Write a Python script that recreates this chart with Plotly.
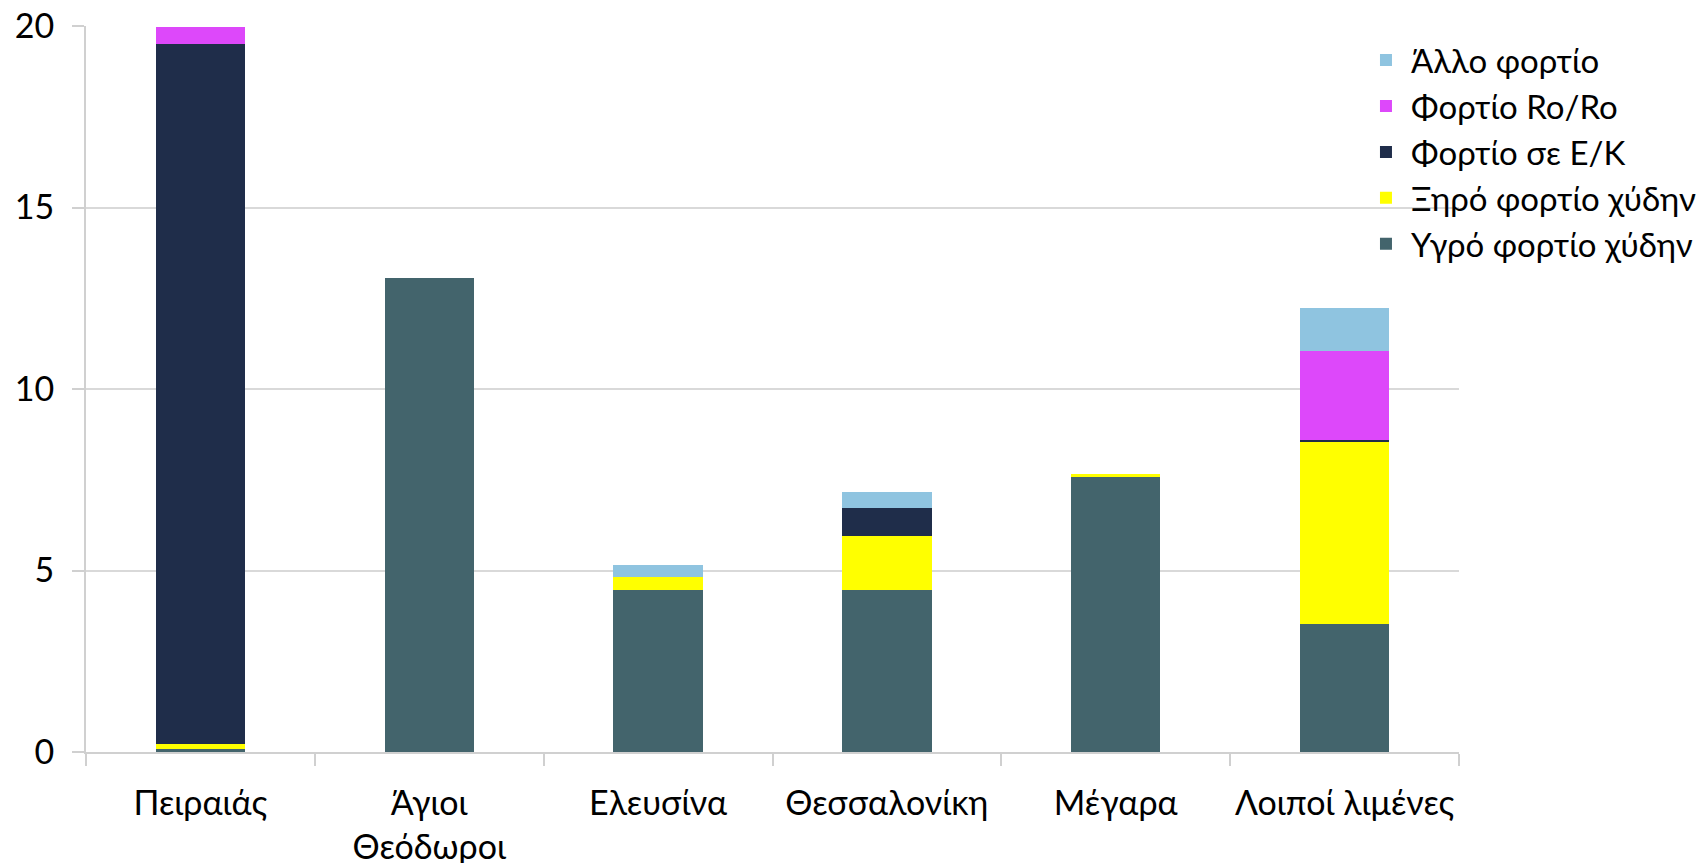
import plotly.graph_objects as go

categories = ["Πειραιάς", "Άγιοι<br>Θεόδωροι", "Ελευσίνα", "Θεσσαλονίκη", "Μέγαρα", "Λοιποί λιμένες"]

ygro = [0.08, 13.06, 4.47, 4.46, 7.60, 3.54]
xiro = [0.15, 0.0, 0.36, 1.49, 0.05, 5.00]
ek = [19.27, 0.0, 0.0, 0.77, 0.0, 0.06]
roro = [0.46, 0.0, 0.0, 0.0, 0.0, 2.45]
allo = [0.0, 0.0, 0.31, 0.45, 0.0, 1.18]

series_names = ["Υγρό φορτίο χύδην", "Ξηρό φορτίο χύδην", "Φορτίο σε Ε/Κ", "Φορτίο Ro/Ro", "Άλλο φορτίο"]
series_values = [ygro, xiro, ek, roro, allo]
colors = ["#43646c", "#ffff00", "#1f2d4a", "#dd48fa", "#8fc4e0"]

y_ticks = [0, 5, 10, 15, 20]

fig = go.Figure()
for name, vals, col in zip(series_names, series_values, colors):
    fig.add_trace(go.Bar(
        x=categories, y=vals, name=name,
        marker=dict(color=col, line=dict(width=0)),
    ))

font_family = "Lato, 'Open Sans', sans-serif"
fig.update_layout(
    barmode="stack",
    bargap=0.61,
    width=1704, height=863,
    paper_bgcolor="white", plot_bgcolor="white",
    margin=dict(l=78, r=253, t=18, b=119, autoexpand=False),
    font=dict(family=font_family, size=34, color="black"),
    legend=dict(
        traceorder="reversed",
        xref="container", yref="container",
        x=0.794, xanchor="left", y=0.972, yanchor="top",
        font=dict(size=33),
        itemwidth=40,
        tracegroupgap=0,
        bgcolor="rgba(0,0,0,0)",
    ),
    showlegend=True,
)
fig.update_xaxes(
    type="category",
    automargin=False,
    tickangle=0,
    showline=True, linecolor="#d0d0d0", linewidth=2,
    ticks="outside", tickson="boundaries", ticklen=12, tickcolor="#d0d0d0", tickwidth=2,
    ticklabelstandoff=20,
    showgrid=False,
)
fig.update_yaxes(
    range=[0, 20],
    automargin=False,
    tickvals=y_ticks,
    ticklabeloverflow="allow",
    showline=True, linecolor="#d0d0d0", linewidth=2,
    ticks="outside", ticklen=12, tickcolor="#d0d0d0", tickwidth=2,
    showgrid=True, gridcolor="#d9d9d9", gridwidth=2,
    zeroline=False,
    ticklabelstandoff=11,
)

fig.write_html("out.html")
